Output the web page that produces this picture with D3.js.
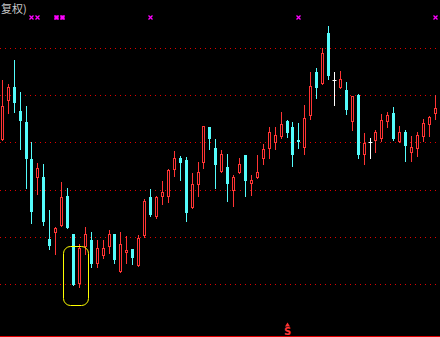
<!DOCTYPE html>
<html>
<head>
<meta charset="utf-8">
<script src="https://cdn.jsdelivr.net/npm/d3@7"></script>
<style>
  html, body { margin: 0; padding: 0; background: #000; overflow: hidden; }
  svg { display: block; }
</style>
</head>
<body>
<div id="chart"></div>
<script>
// daily candles (price units, gridlines every 0.5)
var opens  = [9.54,9.95,10.09,9.83,9.72,9.32,9.13,9.13,8.48,8.55,8.63,8.93,8.53,8.01,8.40,8.47,8.23,8.31,8.40,8.53,8.14,8.34,8.37,8.20,8.52,8.92,8.72,8.93,8.93,9.22,9.34,9.31,8.82,9.06,9.29,9.66,9.44,9.20,9.24,9.00,9.19,9.37,9.07,9.13,9.34,9.44,9.50,9.57,9.73,9.66,9.53,9.45,9.79,10.24,10.13,10.66,10.16,10.09,10.05,9.73,10.00,9.38,9.50,9.52,9.55,9.73,9.81,9.51,9.61,9.40,9.44,9.57,9.69,9.81];
var highs  = [10.16,10.12,10.37,10.03,9.88,9.50,9.28,9.27,8.79,8.61,9.08,9.02,8.53,8.43,8.61,8.55,8.47,8.47,8.57,8.53,8.55,8.51,8.37,8.52,8.90,9.01,8.93,9.09,9.22,9.41,9.36,9.35,9.18,9.29,9.67,9.66,9.54,9.42,9.38,9.16,9.34,9.37,9.16,9.37,9.48,9.66,9.66,9.82,9.74,9.72,9.71,9.90,10.24,10.29,10.50,10.73,10.24,10.25,10.14,9.99,10.01,9.60,9.55,9.63,9.80,9.82,9.87,9.67,9.63,9.57,9.61,9.75,9.78,10.00];
var lows   = [9.53,9.81,9.82,9.43,9.02,8.65,8.95,8.63,8.37,8.32,8.62,8.60,7.99,7.97,8.32,8.18,8.18,8.28,8.33,8.22,8.13,8.22,8.21,8.19,8.50,8.72,8.70,8.85,8.87,9.14,9.10,8.67,8.81,8.93,9.23,9.43,9.02,9.19,8.88,8.83,9.18,8.93,8.94,9.12,9.27,9.34,9.43,9.55,9.56,9.25,9.44,9.38,9.75,9.97,10.12,10.17,9.90,10.08,9.80,9.63,9.33,9.27,9.33,9.40,9.51,9.66,9.52,9.50,9.30,9.30,9.36,9.51,9.57,9.75];
var closes = [9.88,10.09,9.93,9.74,9.34,8.77,9.23,8.67,8.42,8.60,8.92,8.61,8.00,8.38,8.53,8.23,8.38,8.38,8.53,8.27,8.43,8.36,8.29,8.49,8.88,8.74,8.92,8.98,9.21,9.34,9.29,8.76,9.06,9.19,9.67,9.55,9.27,9.38,9.07,9.13,9.27,9.10,9.10,9.19,9.43,9.61,9.58,9.69,9.61,9.38,9.51,9.76,10.10,10.09,10.45,10.21,10.16,10.17,9.85,9.99,9.38,9.49,9.50,9.61,9.74,9.79,9.55,9.61,9.47,9.45,9.58,9.71,9.77,9.86];

var gridLevels = [8.0, 8.5, 9.0, 9.5, 10.0, 10.5];
var markIdx = [5, 6, 25, 50, 73];      // magenta x marks
var markBoldIdx = [9, 10];             // filled marks
var sellIdx = [48];                    // "S" signal
var boxRange = {from: 12, to: 13, top: 8.40, bottom: 7.78};
var titleText = "复权)";

var width = 440, height = 337;
var upColor = "#ff3434", downColor = "#54fcfc", dojiColor = "#ffffff";

var data = opens.map(function(o, i) {
  return {i: i, o: o, h: highs[i], l: lows[i], c: closes[i]};
});

var svg = d3.select("#chart").append("svg")
  .attr("width", width)
  .attr("height", height)
  .style("background", "#000");

var x = d3.scalePoint()
  .domain(d3.range(data.length))
  .range([2.3, 435.3]);

var y = d3.scaleLinear()
  .domain([7.4535, 11.005])
  .range([height - 1, 0]);

function px(i) { return Math.floor(x(i)) + 0.5; }
function py(v) { return Math.round(y(v)); }

// dotted grid
svg.append("g")
  .selectAll("line")
  .data(gridLevels)
  .enter()
  .append("line")
  .attr("x1", 0).attr("x2", width)
  .attr("y1", d => py(d) + 0.5)
  .attr("y2", d => py(d) + 0.5)
  .style("stroke", "#e00000")
  .style("stroke-width", 1)
  .style("stroke-dasharray", "1,4");

// bottom frame
svg.append("line")
  .attr("x1", 0).attr("x2", width)
  .attr("y1", height - 0.5).attr("y2", height - 0.5)
  .style("stroke", "#e00000");

function colorOf(d) {
  if (d.c > d.o) return upColor;
  if (d.c < d.o) return downColor;
  return dojiColor;
}

var candles = svg.append("g")
  .selectAll("g")
  .data(data)
  .enter()
  .append("g");

candles.append("line")
  .attr("x1", d => px(d.i)).attr("x2", d => px(d.i))
  .attr("y1", d => py(d.h))
  .attr("y2", d => py(d.l) + 1)
  .style("stroke", colorOf)
  .style("stroke-width", 1);

// rising: hollow body
candles.filter(d => d.c > d.o)
  .append("rect")
  .attr("x", d => px(d.i) - 1)
  .attr("y", d => py(d.c) + 0.5)
  .attr("width", 2)
  .attr("height", d => Math.max(1, py(d.o) - py(d.c)))
  .style("fill", "#000")
  .style("stroke", upColor)
  .style("stroke-width", 1);

// falling: solid body
candles.filter(d => d.c < d.o)
  .append("rect")
  .attr("x", d => px(d.i) - 1.5)
  .attr("y", d => py(d.o))
  .attr("width", 3)
  .attr("height", d => Math.max(1, py(d.c) - py(d.o) + 1))
  .style("fill", downColor);

// doji: cross bar
candles.filter(d => d.c === d.o)
  .append("line")
  .attr("x1", d => px(d.i) - 2).attr("x2", d => px(d.i) + 2)
  .attr("y1", d => py(d.o) + 0.5).attr("y2", d => py(d.o) + 0.5)
  .style("stroke", dojiColor);

// magenta marks at top
var marks = svg.append("g");
marks.selectAll("path.mk")
  .data(markIdx.concat(markBoldIdx))
  .enter()
  .append("path")
  .attr("class", "mk")
  .attr("d", function(i) {
    var cx = Math.floor(x(i)) + 0.5 + (markBoldIdx.indexOf(i) >= 0 ? 1 : 0), cy = 17.5;
    return "M" + (cx - 2) + "," + (cy - 2) + "L" + (cx + 2) + "," + (cy + 2) +
           "M" + (cx + 2) + "," + (cy - 2) + "L" + (cx - 2) + "," + (cy + 2);
  })
  .style("stroke", "#ff00ff")
  .style("stroke-width", 1.3)
  .style("fill", "none");

marks.selectAll("rect")
  .data(markBoldIdx)
  .enter()
  .append("rect")
  .attr("x", i => Math.floor(x(i)) + 0.5 + 1 - 2)
  .attr("y", 15.5)
  .attr("width", 4)
  .attr("height", 4)
  .style("fill", "#ff00ff");

// yellow highlight box
svg.append("rect")
  .attr("x", Math.floor(x(boxRange.from)) - 9.5)
  .attr("y", py(boxRange.top) + 0.5)
  .attr("width", Math.floor(x(boxRange.to)) - Math.floor(x(boxRange.from)) + 19)
  .attr("height", py(boxRange.bottom) - py(boxRange.top))
  .attr("rx", 7)
  .style("fill", "none")
  .style("stroke", "#ffff00")
  .style("stroke-width", 1);

// sell signal
var sig = svg.append("g")
  .selectAll("g")
  .data(sellIdx)
  .enter()
  .append("g")
  .attr("transform", i => "translate(" + (Math.floor(x(i)) + 0.5) + ",0)");

sig.append("path")
  .attr("d", "M0,322.5L2.5,326.5L-2.5,326.5Z")
  .style("fill", upColor);

sig.append("text")
  .attr("x", 0)
  .attr("y", 335)
  .attr("text-anchor", "middle")
  .style("font-family", "'DejaVu Sans', sans-serif")
  .style("font-weight", "bold")
  .style("font-size", "10px")
  .style("fill", upColor)
  .text("S");

// title
svg.append("text")
  .attr("x", 1)
  .attr("y", 13)
  .style("font-family", "'Noto Sans CJK SC', sans-serif")
  .style("font-size", "11px")
  .style("fill", "#c8c8c8")
  .text(titleText);
</script>
</body>
</html>
